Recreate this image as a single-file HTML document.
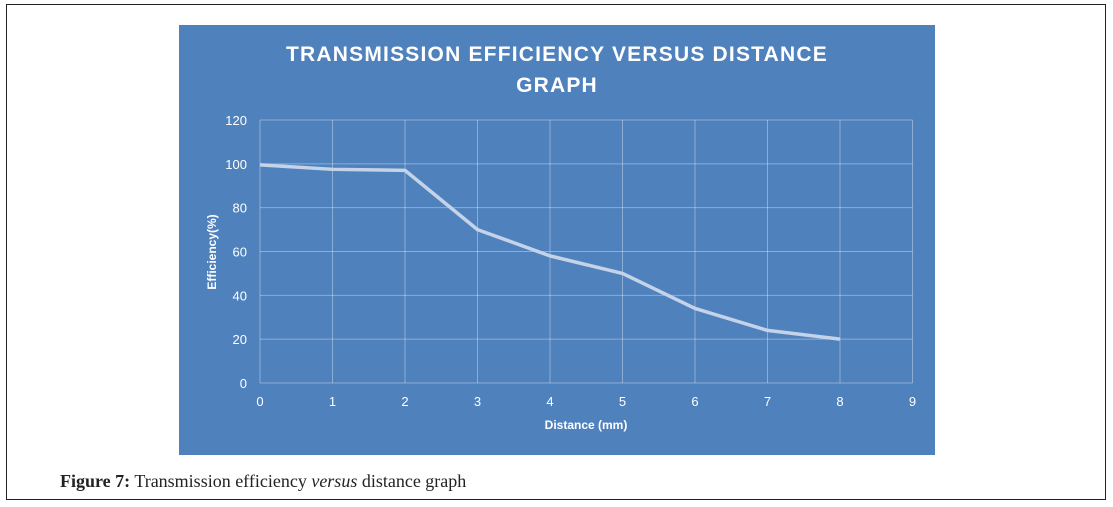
<!DOCTYPE html>
<html><head><meta charset="utf-8"><style>
body{margin:0;width:1113px;height:507px;background:#fff;overflow:hidden;position:relative}
#frame{position:absolute;left:6px;top:4px;width:1100px;height:496px;border:1px solid #222;box-sizing:border-box}
#cap{position:absolute;left:60px;top:471px;font-family:"Liberation Serif",serif;font-size:18px;color:#222}
</style></head><body>
<div id="frame"></div>
<svg id="chart" width="1113" height="507" style="position:absolute;left:0;top:0" font-family="Liberation Sans, sans-serif">
<rect x="179" y="25" width="756" height="430" fill="#4f81bd"/>
<text x="557" y="61" text-anchor="middle" fill="#fff" font-size="21" font-weight="bold" letter-spacing="1.2">TRANSMISSION  EFFICIENCY  VERSUS  DISTANCE</text>
<text x="557" y="92" text-anchor="middle" fill="#fff" font-size="21" font-weight="bold" letter-spacing="1.2">GRAPH</text>
<g id="grid"></g><g id="ticks"></g>
<text transform="translate(216,252) rotate(-90)" text-anchor="middle" fill="#fff" font-size="12" font-weight="bold">Efficiency(%)</text>
<text x="586" y="429" text-anchor="middle" fill="#fff" font-size="12" font-weight="bold">Distance (mm)</text>
<path id="line" fill="none" stroke="#c5d3e8" stroke-width="3.5" stroke-linejoin="round"/>
</svg>
<div id="cap"><b>Figure 7:</b> Transmission efficiency <i>versus</i> distance graph</div>
<script>
const xValues=[0,1,2,3,4,5,6,7,8];
const yValues=[99.5,97.5,97,70,58,50,34,24,20];
const xTicks=[0,1,2,3,4,5,6,7,8,9];
const yTicks=[0,20,40,60,80,100,120];
const X0=260,X1=912.5,Y0=383,Y1=120;
const sx=v=>X0+(v-0)/9*(X1-X0), sy=v=>Y0-v/120*(Y0-Y1);
const NS="http://www.w3.org/2000/svg";
const g=document.getElementById('grid'),t=document.getElementById('ticks');
function mk(tag,a,p){const e=document.createElementNS(NS,tag);for(const k in a)e.setAttribute(k,a[k]);p.appendChild(e);return e;}
yTicks.forEach(v=>{
 const l=mk('line',{x1:X0,x2:X1,y1:sy(v),y2:sy(v),stroke:'rgba(255,255,255,0.35)','stroke-width':1},g);
 
 
 const tx=mk('text',{x:X0-13,y:sy(v)+5,'text-anchor':'end',fill:'#fff','font-size':13},t);
 tx.textContent=v;
 
 
});
xTicks.forEach(v=>{
 const l=mk('line',{x1:sx(v),x2:sx(v),y1:Y1,y2:Y0,stroke:'rgba(255,255,255,0.35)','stroke-width':1},g);
 
 
 const tx=mk('text',{x:sx(v),y:Y0+23,'text-anchor':'middle',fill:'#fff','font-size':13},t);
 tx.textContent=v;
 
 
});
document.getElementById('line').setAttribute('d',xValues.map((x,i)=>(i?'L':'M')+sx(x)+','+sy(yValues[i])).join(' '));
</script>
</body></html>
